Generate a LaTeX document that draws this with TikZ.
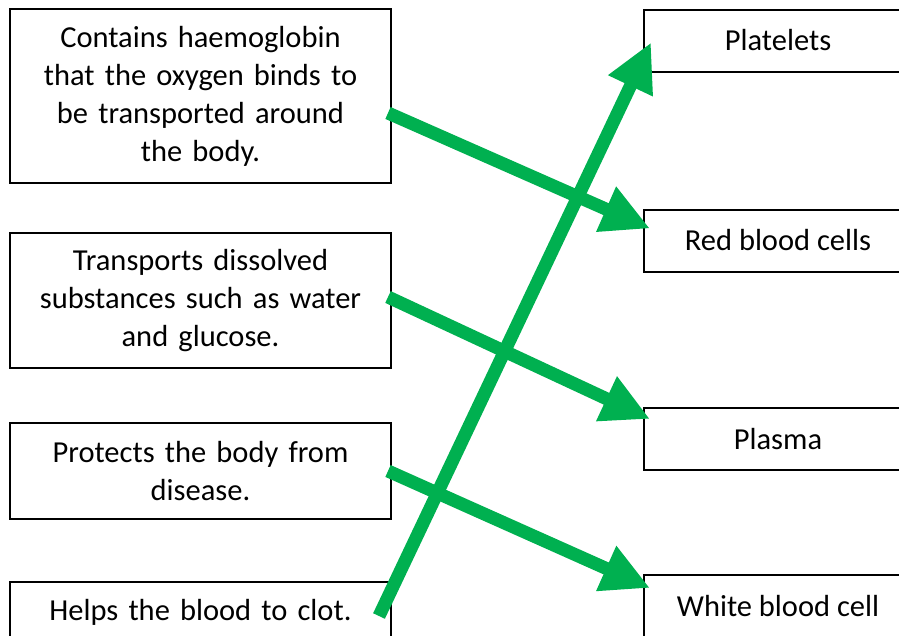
\documentclass[tikz,border=0pt]{standalone}
\usepackage{fontspec}
\setmainfont{Carlito}
\usetikzlibrary{arrows.meta,calc}
\definecolor{ogreen}{HTML}{00B050}
\tikzset{
  lbox/.style={draw=black, line width=2pt, minimum width=381pt, align=center, inner sep=0pt,
    font=\fontsize{30.5}{38}\selectfont, text width=370pt},
  rbox/.style={draw=black, line width=2pt, minimum width=268pt, minimum height=62pt, inner sep=0pt,
    font=\fontsize{30.5}{38}\selectfont},
  arr/.style={draw=ogreen, line width=13pt, -{Triangle[length=48pt,width=46pt]}}
}
\begin{document}
\begin{tikzpicture}[x=1pt,y=-1pt]
\useasboundingbox (0,0) rectangle (899,635);
\clip (0,0) rectangle (899,635);
% left boxes
\node[lbox, minimum height=174pt] (l1) at (200.5,96) {Contains haemoglobin\\that the oxygen binds to\\be transported around\\the body.};
\node[lbox, minimum height=135pt] (l2) at (200.5,300.5) {Transports dissolved\\substances such as water\\and glucose.};
\node[lbox, minimum height=96pt] (l3) at (200.5,471) {Protects the body from\\disease.};
\node[lbox, minimum height=60pt] (l4) at (200.5,612) {Helps the blood to clot.};
% right boxes
\node[rbox] (r1) at (778,40.5) {Platelets};
\node[rbox] (r2) at (778,240.5) {Red blood cells};
\node[rbox] (r3) at (778,439) {Plasma};
\node[rbox] (r4) at (778,606) {White blood cell};
% arrow end points
\coordinate (s1) at ($(l1.north east)+(-4,105)$);
\coordinate (s2) at ($(l2.north east)+(-4,65)$);
\coordinate (s3) at ($(l3.north east)+(-4,49)$);
\coordinate (s4) at ($(l4.north east)+(-13,35)$);
\coordinate (t1) at ($(r2.north west)+(7,20)$);
\coordinate (t2) at ($(r3.north west)+(7,12)$);
\coordinate (t3) at ($(r4.north west)+(7,14)$);
\coordinate (t4) at ($(r1.north west)+(8,34)$);
% arrows
\draw[arr] (s1) -- (t1);
\draw[arr] (s2) -- (t2);
\draw[arr] (s3) -- (t3);
\draw[arr] (s4) -- (t4);
\end{tikzpicture}
\end{document}
